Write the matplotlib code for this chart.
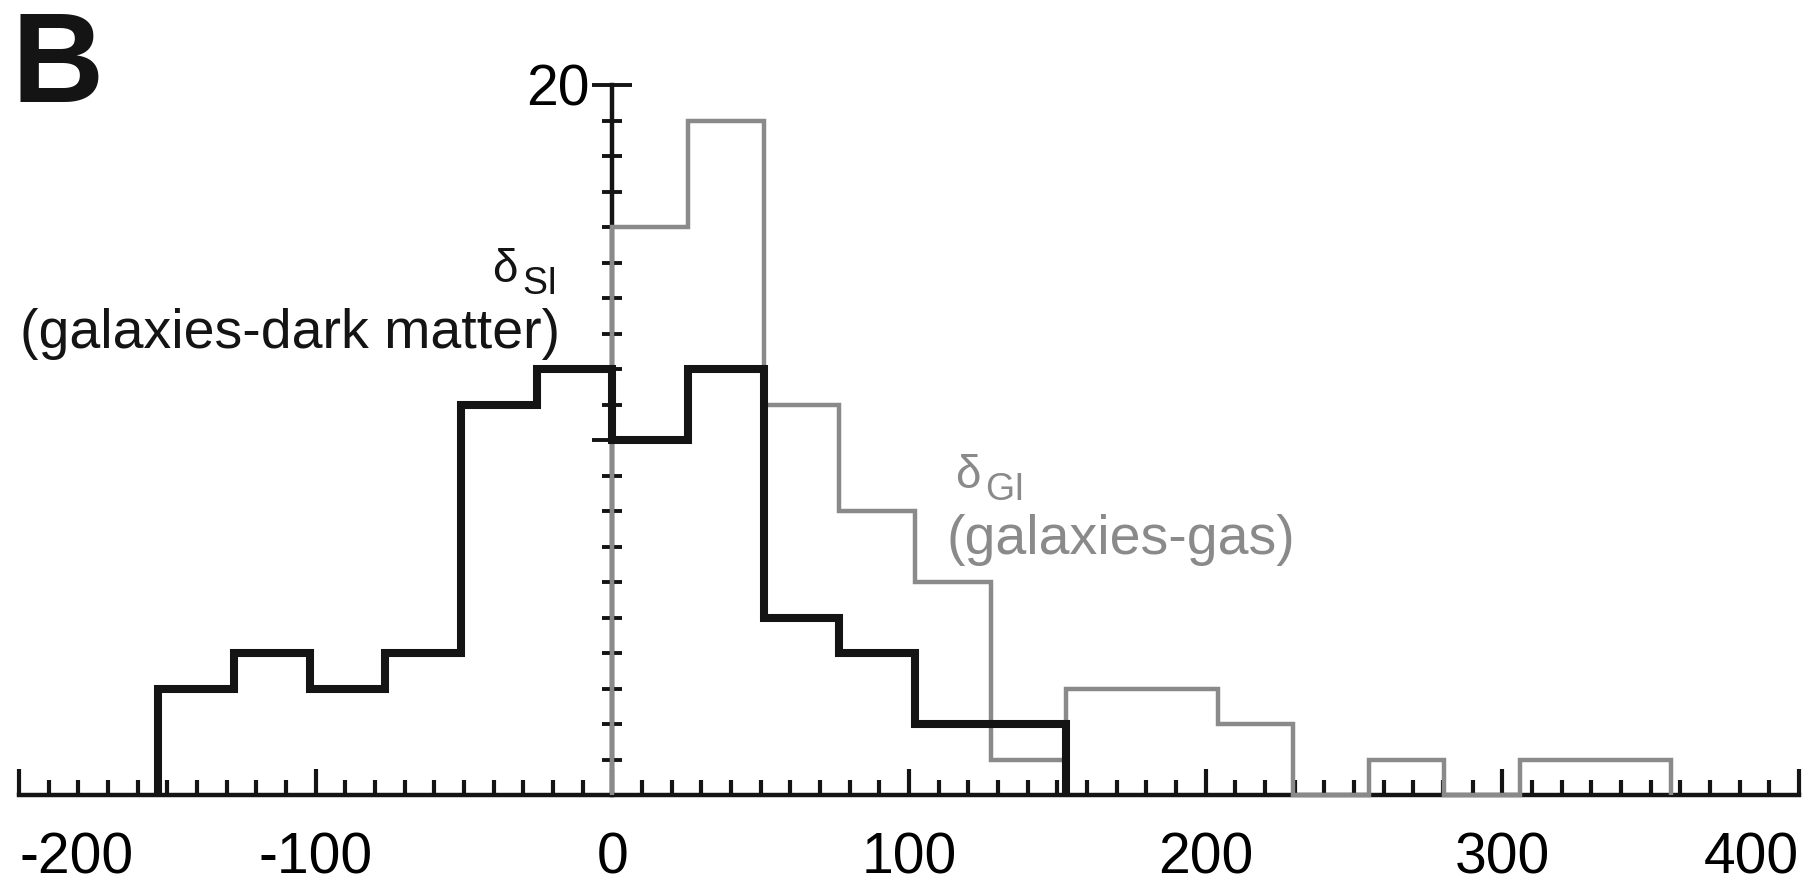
import numpy as np
import matplotlib
matplotlib.use('Agg')
import matplotlib.pyplot as plt
from matplotlib.ticker import MultipleLocator, FixedLocator, FixedFormatter

plt.rcParams['font.family'] = ['Liberation Sans', 'DejaVu Sans']
plt.rcParams['axes.unicode_minus'] = False

# offset histograms (kpc), shared bin width, bins counted outward from zero
bin_width = 25.5
si_first_bin = -6
si_counts = [3, 4, 3, 4, 11, 12, 10, 12, 5, 4, 2, 2]           # galaxies - dark matter
gi_first_bin = 0
gi_counts = [16, 19, 11, 8, 6, 1, 3, 3, 2, 0, 1, 0, 1, 1]      # galaxies - gas

x_major = [-200, -100, 0, 100, 200, 300, 400]
x_labels = ['-200', '-100', '0', '100', '200', '300', '400']

si_edges = bin_width * np.arange(si_first_bin, si_first_bin + len(si_counts) + 1)
gi_edges = bin_width * np.arange(gi_first_bin, gi_first_bin + len(gi_counts) + 1)

grey = '#8a8a8a'
ink = '#141414'

fig = plt.figure(figsize=(18.18, 8.89), dpi=100)
ax = fig.add_axes([19 / 1818, 94 / 889, 1780 / 1818, 710 / 889])
ax.set_xlim(-200, 400)
ax.set_ylim(0, 20)
ax.patch.set_visible(False)

# gray goes over the axis line and ticks, black goes over everything
ax.stairs(gi_counts, gi_edges, baseline=0, fill=False, color=grey,
          lw=3.2, zorder=3, clip_on=False)
ax.stairs(si_counts, si_edges, baseline=0, fill=False, color=ink,
          lw=5.8, zorder=4, clip_on=False)
ax.set_axisbelow(True)

for side in ['top', 'right']:
    ax.spines[side].set_visible(False)
ax.spines['left'].set_position(('data', 0))
ax.spines['left'].set_bounds(0, 20)
ax.spines['bottom'].set_bounds(-200, 400)
for side in ['left', 'bottom']:
    ax.spines[side].set_linewidth(3.2)
    ax.spines[side].set_color(ink)
    ax.spines[side].set_zorder(2)

ax.xaxis.set_major_locator(FixedLocator(x_major))
ax.xaxis.set_major_formatter(FixedFormatter(x_labels))
ax.xaxis.set_minor_locator(MultipleLocator(10))
ax.tick_params(axis='x', which='major', direction='in', length=18.7, width=3,
               color=ink, labelsize=41, pad=26)
ax.tick_params(axis='x', which='minor', direction='in', length=10.8, width=3, color=ink)

ax.yaxis.set_major_locator(FixedLocator([0, 10, 20]))
ax.yaxis.set_major_formatter(FixedFormatter(['', '', '20']))
ax.yaxis.set_minor_locator(MultipleLocator(1))
ax.tick_params(axis='y', which='major', direction='inout', length=28.8, width=2.8,
               color=ink, labelsize=41, pad=2)
ax.tick_params(axis='y', which='minor', direction='inout', length=14.4, width=2.8, color=ink)

xl = ax.get_xticklabels()
xl[0].set_horizontalalignment('left')
xl[-1].set_horizontalalignment('right')

# series labels
ax.text(-40.5, 14.45, 'δ', fontsize=33, color=ink, ha='left', va='baseline')
ax.text(-30.5, 14.1, 'SI', fontsize=27, color=ink, ha='left', va='baseline')
ax.text(-17.6, 12.6, '(galaxies-dark matter)', fontsize=40, color=ink,
        ha='right', va='baseline')

ax.text(115.5, 8.65, 'δ', fontsize=33, color=grey, ha='left', va='baseline')
ax.text(125.5, 8.3, 'GI', fontsize=27, color=grey, ha='left', va='baseline')
ax.text(112.5, 6.8, '(galaxies-gas)', fontsize=40, color=grey, ha='left', va='baseline')

fig.text(12 / 1818, 1 - 102 / 889, 'B', fontsize=92, fontweight='bold', color=ink,
         ha='left', va='baseline')

fig.savefig('out.png', dpi=100, facecolor='white')
